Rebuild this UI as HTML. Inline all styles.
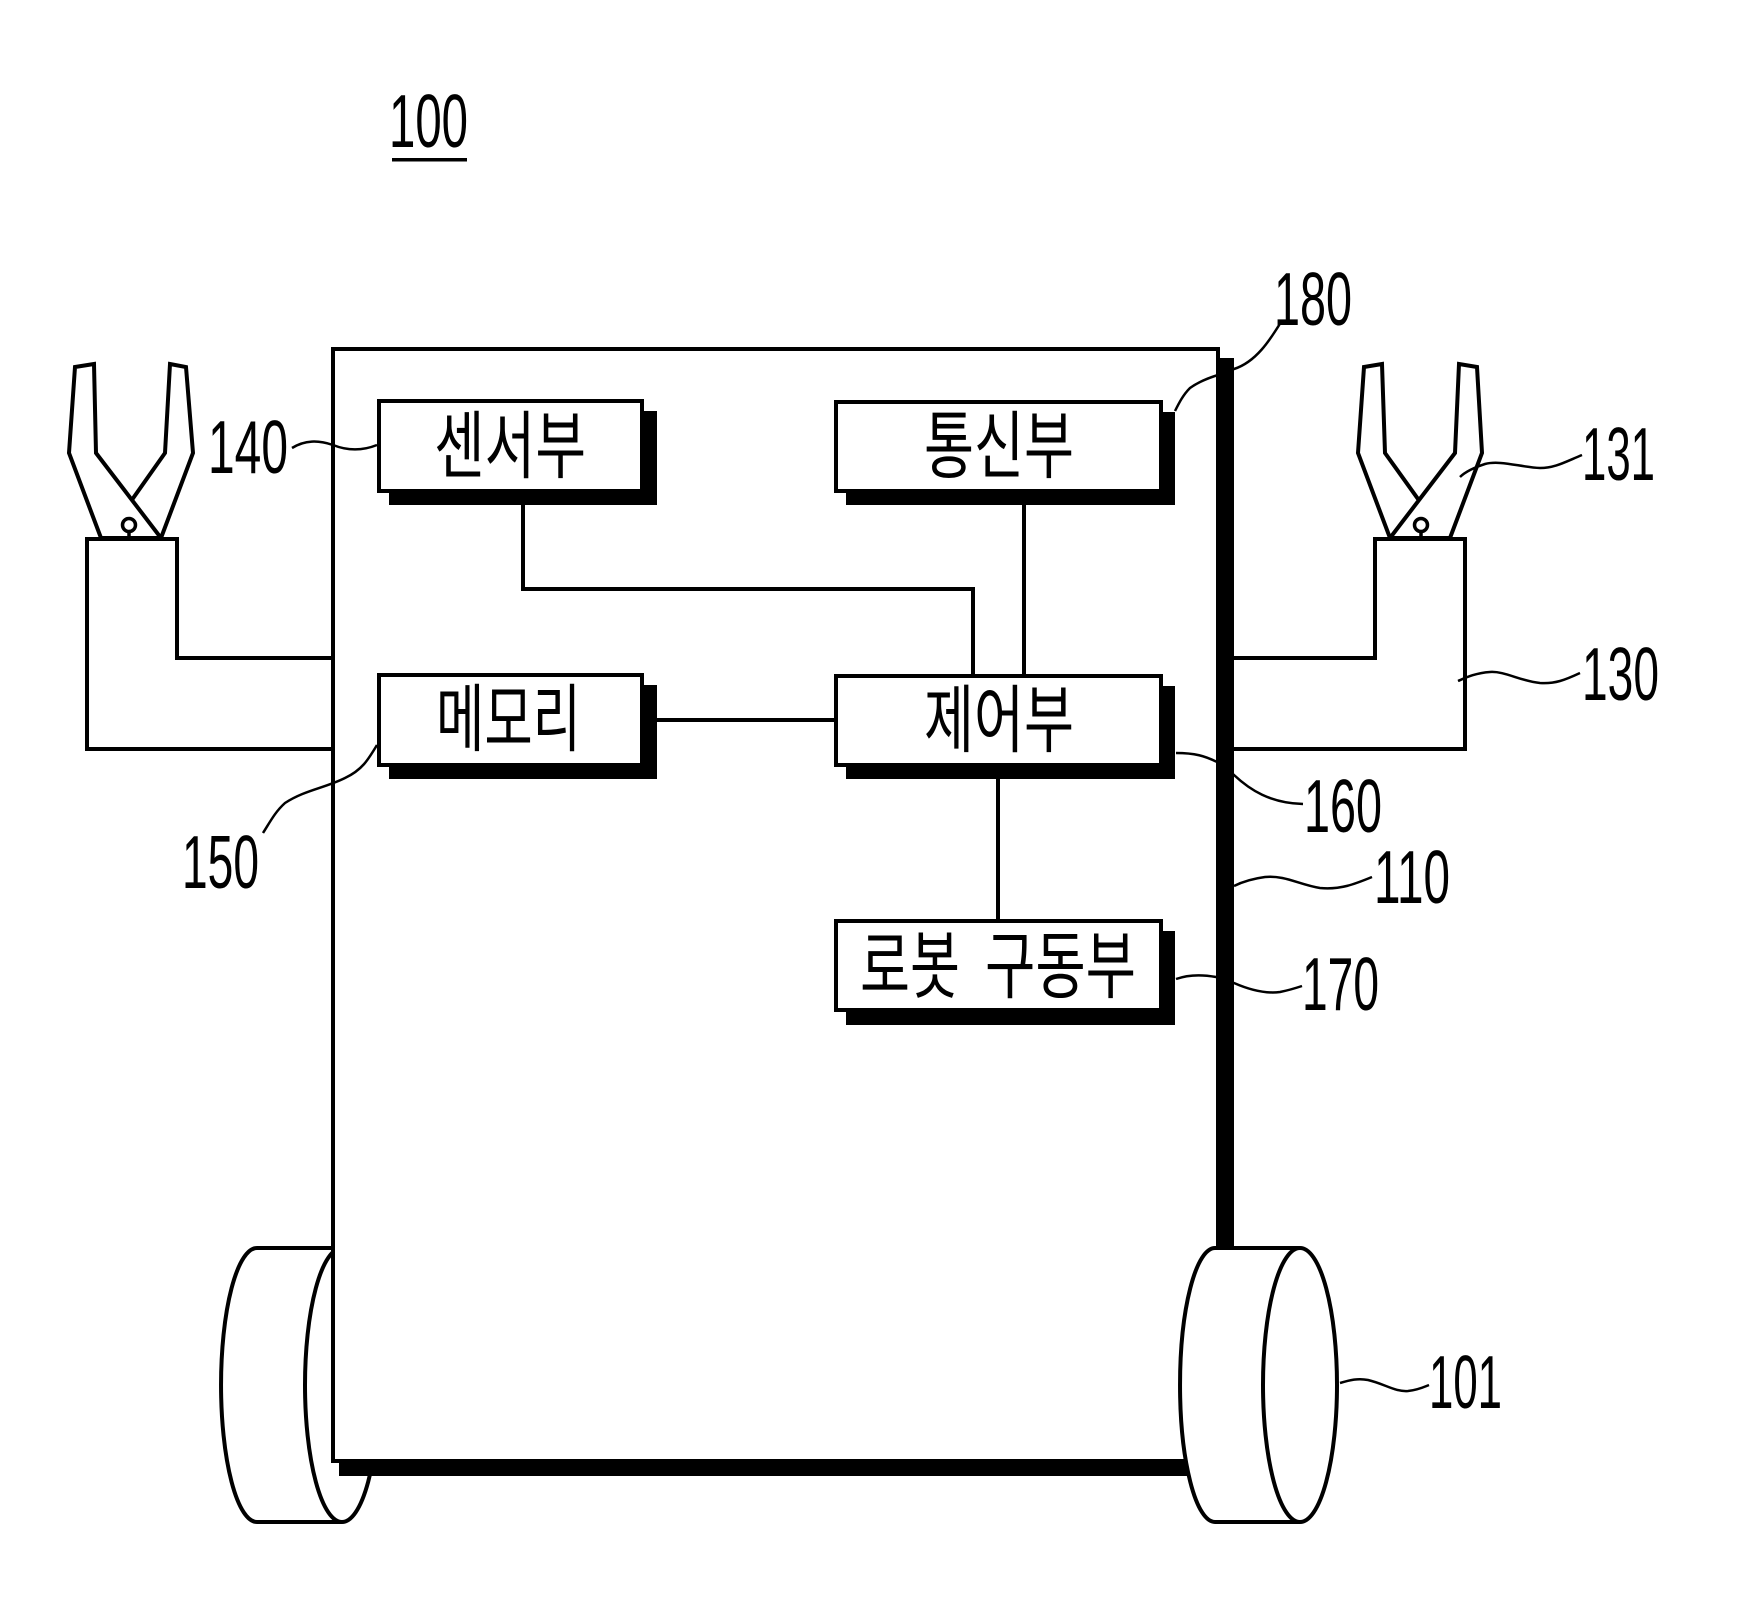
<!DOCTYPE html>
<html>
<head>
<meta charset="utf-8">
<style>
html,body{margin:0;padding:0;background:#fff;}
svg{display:block;}
.ko{font-family:"Liberation Sans","Noto Sans CJK KR",sans-serif;font-size:74px;fill:#000;}
.num{font-family:"Liberation Sans",sans-serif;font-size:75px;fill:#000;}
</style>
</head>
<body>
<svg width="1759" height="1620" viewBox="0 0 1759 1620" xmlns="http://www.w3.org/2000/svg">
<rect x="0" y="0" width="1759" height="1620" fill="#fff"/>

<!-- left wheel (behind body) -->
<g fill="#fff" stroke="#000" stroke-width="4">
  <path d="M342,1248 H257 A36,137 0 0 0 257,1522 H342"/>
  <ellipse cx="342" cy="1385" rx="37" ry="137"/>
</g>

<!-- arms -->
<g fill="none" stroke="#000" stroke-width="4" stroke-linejoin="miter">
  <path d="M333,658 H177 V539 H87 V749 H333"/>
  <path d="M1234,658 H1375 V539 H1465 V749 H1234"/>
</g>

<!-- grippers -->
<g fill="#fff" stroke="#000" stroke-width="4" stroke-linejoin="miter">
  <!-- left gripper -->
  <polygon points="170,364 186,367 193,453 161,538 105,538 165,453"/>
  <polygon points="75,367 94,364 96,453 161,538 101,538 69,453"/>
  <circle cx="129" cy="525" r="6.5" stroke-width="3.5"/>
  <line x1="129" y1="532" x2="129" y2="538" stroke-width="3.5"/>
  <!-- right gripper -->
  <polygon points="1364,367 1382,364 1385,453 1446,538 1390,538 1358,453"/>
  <polygon points="1459,364 1477,367 1482,453 1450,538 1390,538 1455,453"/>
  <circle cx="1421" cy="525" r="6.5" stroke-width="3.5"/>
  <line x1="1421" y1="532" x2="1421" y2="538" stroke-width="3.5"/>
  <!-- redraw base top lines -->
  <line x1="87" y1="539" x2="177" y2="539"/>
  <line x1="1375" y1="539" x2="1465" y2="539"/>
</g>

<!-- main body -->
<rect x="333" y="349" width="885" height="1112" fill="#fff" stroke="#000" stroke-width="4"/>

<!-- connectors -->
<g fill="none" stroke="#000" stroke-width="4">
  <path d="M523,493 V589 H973 V674"/>
  <path d="M1024,493 V674"/>
  <path d="M644,720 H834"/>
  <path d="M998,767 V919"/>
</g>

<!-- shadows -->
<g fill="#000">
  <rect x="389" y="411" width="268" height="94"/>
  <rect x="846" y="412" width="329" height="93"/>
  <rect x="389" y="685" width="268" height="94"/>
  <rect x="846" y="686" width="329" height="93"/>
  <rect x="846" y="931" width="329" height="94"/>
</g>

<!-- boxes -->
<g fill="#fff" stroke="#000" stroke-width="4">
  <rect x="379" y="401" width="263" height="90"/>
  <rect x="836" y="402" width="325" height="89"/>
  <rect x="379" y="675" width="263" height="90"/>
  <rect x="836" y="676" width="325" height="89"/>
  <rect x="836" y="921" width="325" height="89"/>
</g>

<!-- leader lines -->
<g fill="none" stroke="#000" stroke-width="2.5">
  <path d="M292,448 C305,440 318,440 333,445 C348,451 362,451 377,445"/>
  <path d="M377,745 C368,760 362,770 345,778 C325,788 305,790 285,803 C275,812 270,822 263,833"/>
  <path d="M1281,322 C1270,340 1256,362 1234,369 L1218,375 C1205,379 1197,383 1190,388 C1183,395 1179,403 1175,411"/>
  <path d="M1176,753 C1195,753 1205,756 1217,762 L1234,775 C1250,790 1270,803 1303,804"/>
  <path d="M1372,877 C1355,884 1340,890 1320,888 C1300,885 1285,875 1265,877 C1250,879 1240,883 1234,886"/>
  <path d="M1176,979 C1190,974 1205,975 1216,977 L1234,983 C1250,990 1265,994 1280,992 C1290,990 1296,988 1302,986"/>
  <path d="M1582,455 C1565,462 1555,468 1540,468 C1520,467 1500,460 1485,464 C1475,467 1465,472 1460,477"/>
  <path d="M1580,673 C1565,680 1555,684 1540,683 C1520,681 1505,671 1490,672 C1475,673 1465,678 1458,681"/>
</g>

<!-- thick right edge and bottom band -->
<rect x="1216" y="358" width="18" height="1118" fill="#000"/>
<rect x="339" y="1461" width="895" height="15" fill="#000"/>

<!-- right wheel (in front) -->
<g fill="#fff" stroke="#000" stroke-width="4">
  <path d="M1300,1248 H1215 A35,137 0 0 0 1215,1522 H1300"/>
  <ellipse cx="1300" cy="1385" rx="37" ry="137"/>
</g>
<path d="M1340,1383 C1350,1380 1358,1378 1368,1380 C1385,1384 1395,1392 1408,1391 C1418,1390 1424,1387 1429,1385" fill="none" stroke="#000" stroke-width="2.5"/>

<!-- Korean labels -->
<text class="ko" x="434" y="472" textLength="152" lengthAdjust="spacingAndGlyphs">센서부</text>
<text class="ko" x="924" y="472" textLength="150" lengthAdjust="spacingAndGlyphs">통신부</text>
<text class="ko" x="436" y="745" textLength="145" lengthAdjust="spacingAndGlyphs">메모리</text>
<text class="ko" x="924" y="746" textLength="150" lengthAdjust="spacingAndGlyphs">제어부</text>
<text class="ko" x="860" y="992" textLength="100" lengthAdjust="spacingAndGlyphs">로봇</text>
<text class="ko" x="985" y="992" textLength="151" lengthAdjust="spacingAndGlyphs">구동부</text>

<!-- reference numerals -->
<text class="num" x="389" y="147" textLength="79" lengthAdjust="spacingAndGlyphs">100</text>
<rect x="392" y="158" width="75" height="3.5" fill="#000"/>
<text class="num" x="208" y="473" textLength="80" lengthAdjust="spacingAndGlyphs">140</text>
<text class="num" x="1274" y="325" textLength="78" lengthAdjust="spacingAndGlyphs">180</text>
<text class="num" x="1582" y="480" textLength="73" lengthAdjust="spacingAndGlyphs">131</text>
<text class="num" x="1582" y="700" textLength="77" lengthAdjust="spacingAndGlyphs">130</text>
<text class="num" x="1304" y="832" textLength="78" lengthAdjust="spacingAndGlyphs">160</text>
<text class="num" x="1374" y="903" textLength="76" lengthAdjust="spacingAndGlyphs">110</text>
<text class="num" x="1302" y="1010" textLength="77" lengthAdjust="spacingAndGlyphs">170</text>
<text class="num" x="182" y="888" textLength="77" lengthAdjust="spacingAndGlyphs">150</text>
<text class="num" x="1429" y="1408" textLength="73" lengthAdjust="spacingAndGlyphs">101</text>
</svg>
</body>
</html>
